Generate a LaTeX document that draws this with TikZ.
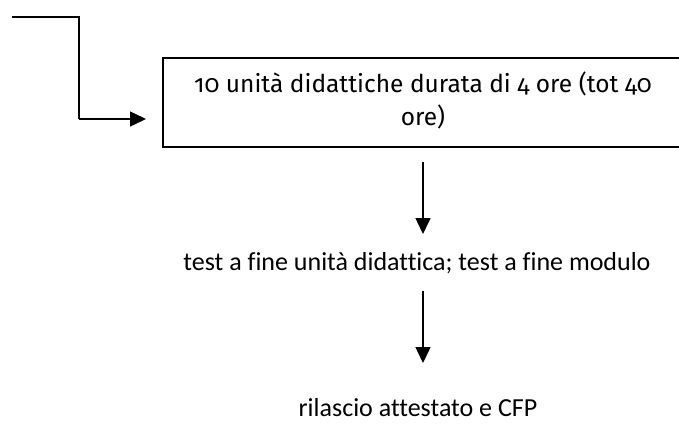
\documentclass[tikz,border=0pt]{standalone}
\usepackage{fontspec}
\setmainfont[Ligatures={NoCommon}]{Carlito}
\newfontfamily\boxfont[Numbers=OldStyle]{Fira Sans}
\usetikzlibrary{arrows.meta}
\begin{document}
\begin{tikzpicture}[x=1pt,y=-1pt,
  conn/.style={line width=1.5pt},
  arr/.style={line width=1.5pt,-{Triangle[length=16pt,width=15pt]}},
  lbl/.style={font=\fontsize{26}{30}\selectfont, inner sep=0pt}]
\useasboundingbox (0,0) rectangle (679,429);
\clip (0,0) rectangle (679,429);
\node[draw, line width=1.5pt, anchor=north west, minimum width=540pt, minimum height=89pt, inner sep=0pt] (box) at (162,57) {};
\node[font=\boxfont\fontsize{24.5}{33}\selectfont, align=center, inner sep=0pt, anchor=base] (boxtext) at (423,125) {10 unità didattiche durata di 4 ore (tot 40\\ore)};
\node[lbl] (t1) at (417,263) {test a fine unità didattica; test a fine modulo};
\node[lbl] (t2) at (418,408) {rilascio attestato e CFP};
\coordinate (in) at (12,17);
\coordinate (bend1) at (79,17);
\coordinate (bend2) at (79,119);
\coordinate (tip) at (146,119);
\draw[conn] (in) -- (bend1) -- (bend2);
\draw[arr] (bend2) -- (tip);
\coordinate (a1s) at (423,162);
\coordinate (a1e) at (423,234);
\coordinate (a2s) at (423,291);
\coordinate (a2e) at (423,363);
\draw[arr] (a1s) -- (a1e);
\draw[arr] (a2s) -- (a2e);
\end{tikzpicture}
\end{document}
